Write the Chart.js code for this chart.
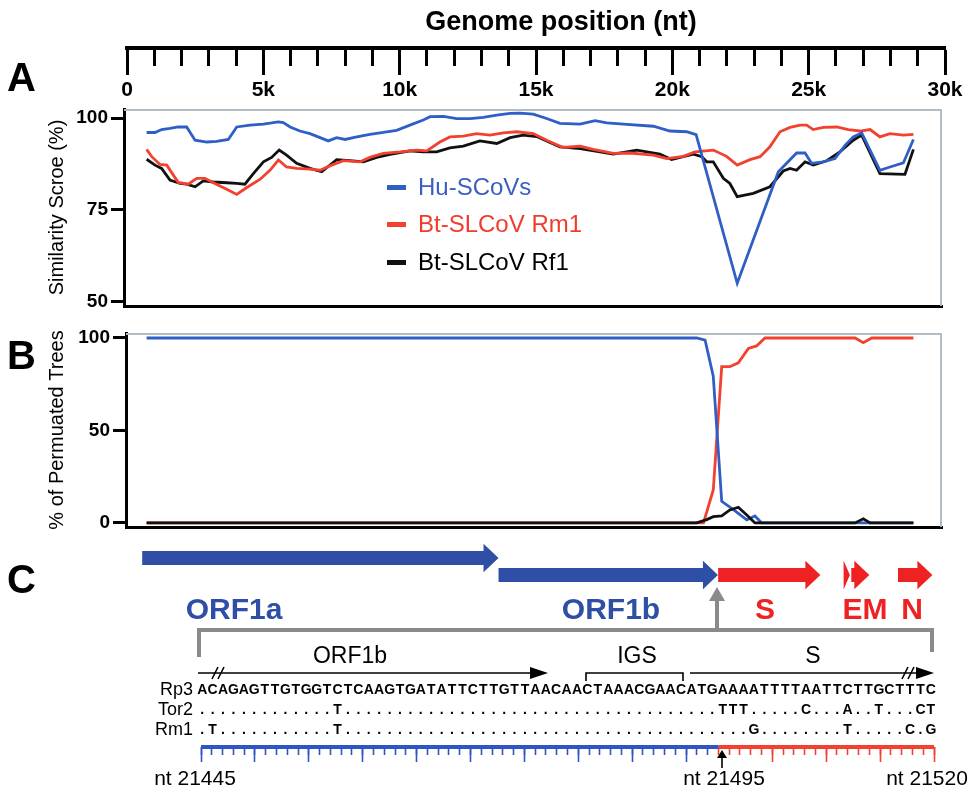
<!DOCTYPE html>
<html><head><meta charset="utf-8">
<script src="https://cdn.jsdelivr.net/npm/chart.js@4.4.1/dist/chart.umd.min.js"></script>
<style>
html,body{margin:0;padding:0;background:#fff}
body{width:971px;height:789px;position:relative;overflow:hidden;font-family:'Liberation Sans',Arial,Helvetica,sans-serif;color:#000}
canvas{position:absolute;left:0}
.t{position:absolute;white-space:nowrap;line-height:1;transform:translate(-50%,-50%)}
.r{position:absolute;white-space:nowrap;line-height:1;transform:translate(-100%,-50%)}
.l{position:absolute;white-space:nowrap;line-height:1;transform:translate(0,-50%)}
.sw{position:absolute;height:5px;width:19px}
svg{position:absolute;left:0;top:0}
</style></head>
<body>
<canvas id="cTop" width="971" height="100" style="top:0"></canvas>
<canvas id="cA" width="971" height="215" style="top:100px"></canvas>
<canvas id="cB" width="971" height="210" style="top:325px"></canvas>
<canvas id="cMap" width="971" height="70" style="top:530px"></canvas>
<canvas id="cRuler" width="971" height="80" style="top:700px"></canvas>
<svg id="deco" width="971" height="789"></svg>
<div id="txt"></div>
<script>
// ---------------- DATA ----------------
const axisTicks = [0, 5000, 10000, 15000, 20000, 25000, 30000];
const axisTickLabels = ['0', '5k', '10k', '15k', '20k', '25k', '30k'];
const seriesNames = ['Hu-SCoVs', 'Bt-SLCoV Rm1', 'Bt-SLCoV Rf1'];

// Panel A: similarity score (%)
const huPos = [720,1030,1270,1580,1880,2190,2500,2930,3290,3720,4030,4520,5010,5310,5560,5740,5990,6350,6720,7090,7390,7700,8010,8440,8920,9410,9900,10390,10880,11130,11620,12110,12600,13080,13580,14070,14430,14920,15410,15900,16640,17190,17620,18230,19330,19940,20550,20900,22410,23920,24590,24900,25140,25570,26000,26370,26670,26980,27650,28020,28510,28880];
const huSim = [96.1,96.1,96.9,97.2,97.6,97.6,94.0,93.5,93.7,94.2,97.6,98.1,98.4,98.7,99.0,98.8,97.6,96.5,95.8,94.7,93.8,94.7,94.2,94.9,95.6,96.1,96.7,98.1,99.5,100.4,100.5,99.9,99.9,100.2,100.8,101.3,101.4,101.1,99.9,98.6,98.4,99.3,98.7,98.4,97.8,96.5,96.3,95.5,55.0,85.4,90.5,90.5,87.7,88.1,89.0,92.6,94.9,96.0,85.8,86.7,87.8,94.2];
const rm1Pos = [720,910,1210,1460,1880,2250,2560,2860,3170,3660,4030,4400,4880,5250,5560,5860,6230,6720,7090,7450,7940,8560,8920,9410,10030,10640,11010,11490,11860,12350,12840,13330,13820,14310,14920,15410,16020,16640,17120,17860,18470,19330,19820,20430,20860,21530,22020,22410,22880,23250,23610,23980,24350,24720,24960,25200,25570,26060,26490,26920,27290,27650,28020,28510,28880];
const rm1Sim = [91.5,89.5,87.4,87.2,82.5,82.0,83.6,83.6,82.4,80.6,79.2,81.1,83.3,85.8,88.6,86.7,86.3,86.1,85.8,87.0,88.4,88.1,89.3,90.4,90.8,91.3,91.1,93.5,94.9,95.1,95.8,95.4,96.0,96.3,95.8,94.0,92.0,92.4,91.5,90.4,90.5,89.9,89.0,89.6,90.8,91.3,89.6,87.2,88.7,89.5,92.2,96.3,97.5,98.1,98.1,96.9,97.5,97.6,96.9,96.5,96.9,94.9,95.8,95.4,95.6];
const rf1Pos = [720,1030,1270,1580,1950,2190,2500,2800,3170,3660,4030,4330,4640,5010,5310,5590,5860,6230,6720,7150,7700,8190,8680,9170,9660,10390,10880,11370,11860,12350,12960,13580,14070,14550,15050,15410,15900,16640,17370,17860,18720,19570,20000,20800,21110,21290,21530,21900,22140,22410,23000,23610,24100,24350,24590,24900,25200,25700,26180,26670,26980,27650,28570,28880];
const rf1Sim = [88.8,87.2,86.3,83.1,82.2,82.0,81.3,82.9,82.6,82.4,82.2,82.0,84.9,88.1,89.3,91.3,89.9,87.7,86.3,85.4,88.7,88.4,88.1,89.3,90.1,91.1,90.8,90.8,91.9,92.4,93.8,93.1,94.7,95.4,95.0,93.8,92.2,91.7,90.8,90.2,91.3,90.2,88.7,90.2,89.5,88.1,88.1,83.6,82.2,78.6,79.5,81.3,85.6,86.3,85.8,88.1,87.2,88.4,90.8,94.0,95.4,84.9,84.7,91.5];
const simTicks = [50, 75, 100];

// Panel B: % of permuted trees
const huPermPos = [720,20920,21230,21530,21840,22270,22760,23060,23310,28880];
const huPerm = [100,100,98.8,79.3,11.7,7.2,1.6,3.8,0,0];
const rm1PermPos = [720,21170,21530,21840,22140,22450,22820,23120,23430,26740,27040,27350,28880];
const rm1Perm = [0,0,17.8,84.5,84.5,86.6,94.4,95.7,100,100,97.5,100,100];
const rf1PermPos = [720,20920,21290,21530,21840,22140,22450,22760,23060,26740,27040,27290,28880];
const rf1Perm = [0,0,1.8,3.4,3.8,7.0,8.5,4.3,0,0,2.2,0,0];
const permTicks = [0, 50, 100];

// Panel C: genome map
const geneNames = ['ORF1a', 'ORF1b', 'S', 'E', 'M', 'N'];
const geneStart = [265, 13398, 21492, 26117, 26398, 28120];
const geneEnd = [13398, 21485, 25259, 26347, 27063, 29388];
const geneRow = ['r1', 'r2', 'r2', 'r2', 'r2', 'r2'];
const geneGroup = ['orf1', 'orf1', 'sp', 'sp', 'sp', 'sp'];

// Panel C: alignment
const seqNames = ['Rp3', 'Tor2', 'Rm1'];
const seqRows = [
  'ACAGAGTTGTGGTCTCAAGTGATATTCTTGTTAACAACTAAACGAACATGAAAATTTTAATTCTTGCTTTC',
  '.............T....................................TTT.....C...A..T...CT',
  '.T...........T.......................................G........T.....C.G'
];
const rulerTicks = [0, 48, 68];           // ruler tick-index: start, junction, end
const rulerLabels = ['nt 21445', 'nt 21495', 'nt 21520'];

// ---------------- STYLE ----------------
const BLUE = '#2f5fc6', RED = '#f2412f', BLACK = '#111111';
const GENE_BLUE = '#2f4fa6', GENE_RED = '#ee2222';
const FONT = "'Liberation Sans', Arial, sans-serif";

const noPlug = { legend: { display: false }, tooltip: { enabled: false }, title: { display: false } };
const pts = (xs, ys) => xs.map((x, i) => ({ x, y: ys[i] }));

const framePlugin = {
  id: 'frame',
  beforeDatasetsDraw(chart) {
    const { ctx, chartArea: a } = chart;
    ctx.save();
    ctx.strokeStyle = '#b3bcc3'; ctx.lineWidth = 2;
    ctx.beginPath(); ctx.moveTo(a.left, a.top + 1); ctx.lineTo(a.right - 1, a.top + 1); ctx.lineTo(a.right - 1, a.bottom); ctx.stroke();
    ctx.restore();
  }
};

// ---------------- TOP AXIS ----------------
new Chart(document.getElementById('cTop'), {
  type: 'line',
  data: { datasets: [{ data: [], showLine: false }] },
  options: {
    responsive: false, animation: false, events: [],
    layout: { padding: { left: 127, right: 26, top: 40, bottom: 0 } },
    plugins: noPlug,
    scales: {
      x2: {
        type: 'linear', min: 0, max: 30000, position: 'bottom', weight: 0,
        afterBuildTicks: s => { const t = []; for (let v = 1000; v < 30000; v += 1000) if (v % 5000) t.push({ value: v }); s.ticks = t; },
        afterFit: s => { s.height = 0; s.paddingLeft = 0; s.paddingRight = 0; },
        border: { display: false },
        grid: { drawOnChartArea: false, drawTicks: true, tickLength: 18, tickWidth: 3, tickColor: '#000' },
        ticks: { display: false }
      },
      x: {
        type: 'linear', min: 0, max: 30000, position: 'bottom', weight: 1,
        afterBuildTicks: s => { s.ticks = axisTicks.map(v => ({ value: v })); },
        afterFit: s => { s.height = 52; s.paddingLeft = 0; s.paddingRight = 0; },
        border: { display: true, color: '#000', width: 4 },
        grid: { drawOnChartArea: false, drawTicks: true, tickLength: 27, tickWidth: 3, tickColor: '#000' },
        ticks: { autoSkip: false, maxRotation: 0, padding: 3, color: '#000',
          font: { family: FONT, size: 21, weight: 'bold' },
          callback: v => axisTickLabels[axisTicks.indexOf(v)] }
      },
      y: { display: false, min: 0, max: 1 }
    }
  }
});

// ---------------- PANELS A / B ----------------
function yAxis(min, max, ticks, title, width) {
  return {
    min, max, position: 'left',
    afterBuildTicks: s => { s.ticks = ticks.map(v => ({ value: v })); },
    afterFit: s => { s.width = width; s.paddingTop = 0; s.paddingBottom = 0; },
    border: { display: true, color: '#000', width: 3 },
    grid: { drawOnChartArea: false, tickLength: 13, tickWidth: 3, tickColor: '#000' },
    ticks: { padding: 3, color: '#000', font: { family: FONT, size: 19, weight: 'bold' } },
    title: { display: true, text: title, color: '#000', font: { family: FONT, size: 20 }, padding: { top: 45, bottom: 0 } }
  };
}
function xHidden(min, max) {
  return {
    type: 'linear', min, max, position: 'bottom',
    afterFit: s => { s.height = 0; s.paddingLeft = 0; s.paddingRight = 0; },
    border: { display: true, color: '#000', width: 3 },
    grid: { display: false }, ticks: { display: false }
  };
}
const lineDs = (label, data, color) => ({ label, data, borderColor: color, backgroundColor: color, borderWidth: 2.8, pointRadius: 0, tension: 0, fill: false, clip: false });

new Chart(document.getElementById('cA'), {
  type: 'line',
  data: { datasets: [
    lineDs(seriesNames[0], pts(huPos, huSim), BLUE),
    lineDs(seriesNames[1], pts(rm1Pos, rm1Sim), RED),
    lineDs(seriesNames[2], pts(rf1Pos, rf1Sim), BLACK)
  ] },
  options: {
    responsive: false, animation: false, events: [],
    layout: { padding: { left: 0, right: 29, top: 9, bottom: 9 } },
    plugins: noPlug,
    scales: { x: xHidden(-110, 29930), y: yAxis(48.8, 102.5, simTicks, 'Similarity Scroe (%)', 124) }
  },
  plugins: [framePlugin]
});

new Chart(document.getElementById('cB'), {
  type: 'line',
  data: { datasets: [
    lineDs(seriesNames[2], pts(rf1PermPos, rf1Perm), BLACK),
    lineDs(seriesNames[0], pts(huPermPos, huPerm), BLUE),
    lineDs(seriesNames[1], pts(rm1PermPos, rm1Perm), RED)
  ] },
  options: {
    responsive: false, animation: false, events: [],
    layout: { padding: { left: 0, right: 29, top: 8, bottom: 8 } },
    plugins: noPlug,
    scales: { x: xHidden(-37, 29930), y: yAxis(-2.2, 102.7, permTicks, '% of Permuated Trees', 126) }
  },
  plugins: [framePlugin]
});

// ---------------- GENOME MAP ----------------
const arrowPlugin = {
  id: 'arrows',
  afterDatasetsDraw(chart) {
    const { ctx } = chart;
    const meta = chart.getDatasetMeta(0);
    meta.data.forEach((el, i) => {
      const p = el.getProps(['x', 'base', 'y', 'height'], true);
      const x0 = Math.min(p.base, p.x), x1 = Math.max(p.base, p.x);
      const bh = p.height / 2, hh = bh * 2.05;
      const hl = Math.min(15, x1 - x0);
      const xb = x1 - hl;
      ctx.save();
      ctx.fillStyle = geneGroup[i] === 'orf1' ? GENE_BLUE : GENE_RED;
      ctx.beginPath();
      ctx.moveTo(x0, p.y - bh); ctx.lineTo(xb, p.y - bh); ctx.lineTo(xb, p.y - hh);
      ctx.lineTo(x1, p.y); ctx.lineTo(xb, p.y + hh); ctx.lineTo(xb, p.y + bh); ctx.lineTo(x0, p.y + bh);
      ctx.closePath(); ctx.fill();
      ctx.restore();
    });
  }
};
new Chart(document.getElementById('cMap'), {
  type: 'bar',
  data: { labels: ['r1', 'r2'], datasets: [{
    data: geneNames.map((g, i) => ({ x: [geneStart[i], geneEnd[i]], y: geneRow[i] })),
    backgroundColor: 'rgba(0,0,0,0)', barThickness: 14
  }] },
  options: {
    indexAxis: 'y', responsive: false, animation: false, events: [],
    layout: { padding: { left: 135, right: 22, top: 19.5, bottom: 16.5 } },
    plugins: noPlug,
    scales: {
      x: { type: 'linear', min: 0, max: 30000, display: false },
      y: { type: 'category', labels: ['r1', 'r2'], display: false }
    }
  },
  plugins: [arrowPlugin]
});

// ---------------- RULER ----------------
const rulerColor = c => (c.tick && c.tick.value >= rulerTicks[1]) ? '#f2412f' : '#2f55c4';
new Chart(document.getElementById('cRuler'), {
  type: 'line',
  data: { datasets: [
    { data: [{ x: rulerTicks[0], y: 0 }, { x: rulerTicks[1], y: 0 }], borderColor: '#2f55c4', borderWidth: 4, pointRadius: 0, clip: false },
    { data: [{ x: rulerTicks[1], y: 0 }, { x: rulerTicks[2], y: 0 }], borderColor: '#f2412f', borderWidth: 4, pointRadius: 0, clip: false }
  ] },
  options: {
    responsive: false, animation: false, events: [],
    layout: { padding: { left: 201, right: 37, top: 10, bottom: 33 } },
    plugins: noPlug,
    scales: {
      x: {
        type: 'linear', min: rulerTicks[0], max: rulerTicks[2], position: 'bottom',
        afterBuildTicks: s => { const t = []; for (let v = rulerTicks[0]; v <= rulerTicks[2]; v++) t.push({ value: v }); s.ticks = t; },
        afterFit: s => { s.height = 0; s.paddingLeft = 0; s.paddingRight = 0; },
        border: { display: false },
        grid: { drawOnChartArea: false, tickLength: 8, tickWidth: 1.6, tickColor: rulerColor },
        ticks: { display: false }
      },
      x2: {
        type: 'linear', min: rulerTicks[0], max: rulerTicks[2], position: 'bottom',
        afterBuildTicks: s => { const t = []; for (let v = rulerTicks[0]; v < rulerTicks[1]; v += 5) t.push({ value: v }); for (let v = rulerTicks[2]; v > rulerTicks[1]; v -= 5) t.push({ value: v }); s.ticks = t; },
        afterFit: s => { s.height = 0; s.paddingLeft = 0; s.paddingRight = 0; },
        border: { display: false },
        grid: { drawOnChartArea: false, tickLength: 15, tickWidth: 1.6, tickColor: rulerColor },
        ticks: { display: false }
      },
      y: { display: false, min: 0, max: 1 }
    }
  }
});

// ---------------- TEXT ----------------
const T = document.getElementById('txt');
function put(cls, text, x, y, css) {
  const d = document.createElement('div');
  d.className = cls; d.textContent = text;
  d.style.left = x + 'px'; d.style.top = y + 'px';
  if (css) d.style.cssText += css;
  T.appendChild(d); return d;
}
put('t', 'Genome position (nt)', 561, 21, 'font-size:27px;font-weight:bold;');
put('l', 'A', 7, 77, 'font-size:40px;font-weight:bold;');
put('l', 'B', 7, 355, 'font-size:40px;font-weight:bold;');
put('l', 'C', 7, 579, 'font-size:40px;font-weight:bold;');

// legend
const legColors = [BLUE, RED, BLACK];
const legText = ['#3a5fc2', '#f03c2c', '#000'];
const legY = [187, 224, 262];
seriesNames.forEach((n, i) => {
  const s = document.createElement('div'); s.className = 'sw';
  s.style.left = '387px'; s.style.top = (legY[i] - 2.5) + 'px'; s.style.background = legColors[i];
  T.appendChild(s);
  put('l', n, 418, legY[i], 'font-size:24px;color:' + legText[i] + ';');
});

// gene labels
const gl = 'font-size:30px;font-weight:bold;color:';
put('t', 'ORF1a', 234, 609, gl + GENE_BLUE + ';');
put('t', 'ORF1b', 611, 609, gl + GENE_BLUE + ';');
put('t', 'S', 765, 609, gl + GENE_RED + ';');
put('t', 'EM', 865, 609, gl + GENE_RED + ';');
put('t', 'N', 912, 609, gl + GENE_RED + ';');

// alignment annotations
put('t', 'ORF1b', 350, 655, 'font-size:23px;');
put('t', 'IGS', 637, 655, 'font-size:23px;');
put('t', 'S', 813, 655, 'font-size:23px;');

const COL0 = 197, COLW = 10.41;
const rowY = [689, 709, 729];
seqNames.forEach((n, r) => {
  put('r', n, 193, rowY[r], 'font-size:18px;');
  const s = seqRows[r];
  for (let k = 0; k < s.length; k++) {
    put('t', s[k], COL0 + (k + 0.5) * COLW, rowY[r], 'font-size:14px;font-weight:bold;');
  }
});
put('t', rulerLabels[0], 195, 777, 'font-size:21px;');
put('t', rulerLabels[1], 724, 777, 'font-size:21px;');
put('t', rulerLabels[2], 927, 777, 'font-size:21px;');

// decorations (svg)
const svg = document.getElementById('deco');
svg.innerHTML = `
<g stroke="#8a8a8a" stroke-width="4" fill="none">
  <path d="M199 657 V630 H932 V652"/>
  <path d="M717 630 V596"/>
</g>
<path d="M717 587 L709 601 L725 601 Z" fill="#8a8a8a"/>
<g stroke="#000" stroke-width="1.6" fill="none">
  <path d="M198 673 H532"/>
  <path d="M586 681 V673 H683 V681"/>
  <path d="M690 673 H918"/>
  <path d="M212 679 L218 667 M218 679 L224 667"/>
  <path d="M902 679 L908 667 M908 679 L914 667"/>
  <path d="M722 768 V752"/>
</g>
<path d="M548 673 L530 667 L530 679 Z" fill="#000"/>
<path d="M934 673 L916 667 L916 679 Z" fill="#000"/>
<path d="M722 750 L717 758 L727 758 Z" fill="#000"/>
`;
</script>
</body></html>
